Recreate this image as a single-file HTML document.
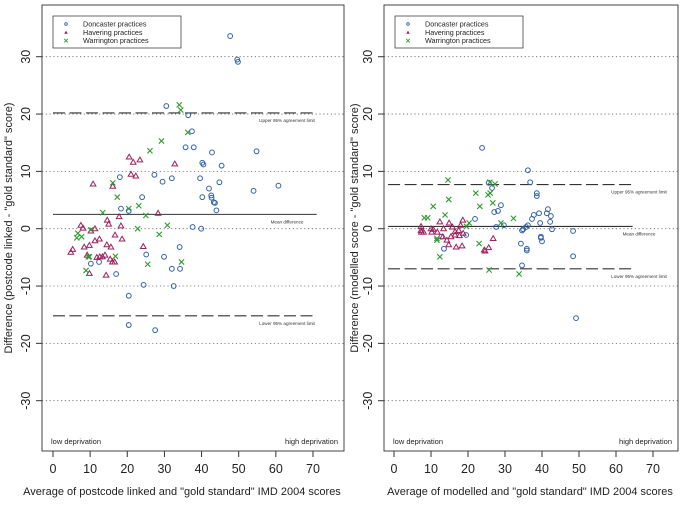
<!DOCTYPE html>
<html><head><meta charset="utf-8"><style>
html,body{margin:0;padding:0;background:#fff;width:685px;height:507px;overflow:hidden}
svg{display:block;font-family:"Liberation Sans",sans-serif}
</style></head><body>
<svg id="c" width="685" height="507" xmlns="http://www.w3.org/2000/svg"></svg>
<script>
const xTicks=[0,10,20,30,40,50,60,70];
const yTicks=[-30,-20,-10,0,10,20,30];
const legendLabels=["Doncaster practices","Havering practices","Warrington practices"];
// Left panel data [x,y]
const leftDon=[[47.7,33.6],[49.6,29.5],[49.8,29.1],[30.5,21.4],[36.4,19.8],[37.4,17],[35.7,14.2],[37.9,14.2],[42.8,13.3],[54.8,13.5],[40.2,11.5],[40.5,11.2],[45.4,11],[27.3,9.4],[18,9],[32,8.8],[29.5,8.2],[39.6,8.8],[44.8,8.1],[42,7],[54,6.6],[60.7,7.5],[42.6,5.8],[42.7,5.4],[40.2,5.5],[24,5.5],[43.3,4.6],[43.6,4.5],[44,3.2],[18.3,3.5],[20.4,3.1],[37.6,0.3],[39.9,0],[34.1,-3.2],[25.1,-4.5],[29.9,-4.9],[10.2,-6.1],[12.4,-5.8],[17,-7.9],[32,-7],[34.2,-7],[24.4,-9.8],[32.5,-10],[20.4,-11.7],[20.4,-16.8],[27.5,-17.7]];
const leftHav=[[10.8,7.8],[16.1,7.4],[20.5,12.5],[21.6,11.6],[23.4,12],[32.8,11.3],[21,9.5],[22.3,9.2],[28.3,2.7],[17.8,2.1],[14.6,1.5],[15,0.8],[18.3,0.5],[7.5,0.6],[8.1,0.1],[11.3,0],[10.2,-0.4],[16.7,-1.1],[18.6,-1.8],[12.5,-1.8],[11.3,-2.1],[14.5,-2.8],[15.6,-3.2],[8.4,-3.2],[9.8,-2.9],[24.3,-3.1],[5.3,-3.6],[4.8,-4.1],[9.2,-4.6],[12.6,-4.9],[14,-4.6],[9.8,-7.8],[14.3,-8.1],[16,-5.8],[16.6,-5.8],[15.4,-5.3],[13.3,-4.9],[11.8,-5]];
const leftWar=[[34,21.6],[34.4,20.7],[36.3,16.8],[29.2,15.3],[26.1,13.6],[16.1,8],[17.3,5.5],[23.1,4],[20.4,3.5],[13.4,2.8],[25,2.3],[30.8,0.6],[22.8,0],[28.6,-1],[10.2,-0.2],[6.7,-0.8],[6.4,-1.6],[7.7,-1.4],[9.8,-4.9],[16.8,-4.8],[8.9,-7.3],[25.5,-6.2],[34.6,-5.8],[9.5,-4.9]];
const leftLines=[20.2,2.5,-15.2];
// Right panel data
const rightDon=[[23.8,14.1],[36.2,10.2],[36.8,8.1],[38.6,6.2],[38.6,5.7],[26.5,7.1],[25.6,8],[28.9,4.1],[27.1,2.9],[28.1,3.1],[21.9,1.7],[41.6,3.4],[41.3,2.7],[42.4,2.2],[39.2,2.7],[37.8,2.4],[37.3,1.7],[36.2,0.6],[35.7,0.3],[39.5,1],[42.2,1.2],[42.7,-0.1],[34.9,-0.1],[34.6,-0.3],[48.4,-0.4],[39.7,-1.4],[39.7,-1.6],[40,-2.2],[34.3,-2.6],[35.9,-3.5],[35.9,-3.8],[48.4,-4.8],[34.6,-6.4],[19.5,-1.1],[13.5,-3.5],[12.8,-1.4],[27.6,0.3],[29.7,0.6],[49.2,-15.6]];
const rightHav=[[7.3,-0.3],[7.3,0.4],[7.4,-0.6],[10,0],[10.2,-0.6],[12.4,1.2],[14.9,1],[15.8,0.3],[13.4,0],[16.5,-1.1],[15.4,-1.4],[17.7,-1.2],[18.6,1.5],[18,0.6],[14.8,-2.8],[16.8,-3.2],[18.4,-3],[24.4,-3.7],[24.6,-3.9],[25.6,-3.3],[26.8,-1.7],[13.2,-1.4],[14.3,-2],[10.6,-0.1],[8,-0.6],[11.7,-0.6],[16.5,-0.5],[17.5,-0.3],[18.7,-0.8]];
const rightWar=[[14.6,8.5],[25.9,8.1],[27.3,7.8],[25.4,5.9],[26,6.2],[22.1,6.2],[14.8,5.1],[10.6,3.9],[23.2,3.9],[26.7,4.5],[13.8,2.4],[8.2,1.9],[9.1,1.9],[32.3,1.8],[28.9,1],[20.3,1],[19.6,0.4],[23,-2.6],[11.6,-2],[12.4,-4.9],[25.7,-7.2],[33.8,-7.9],[11.6,-1.7]];
const rightLines=[7.7,0.4,-7.0];

const svg=document.getElementById('c');
const NS='http://www.w3.org/2000/svg';
const COL=['#2f62a6','#9e1f5e','#2f9a2f'];
function mk(t,a,p){const e=document.createElementNS(NS,t);for(const k in a)e.setAttribute(k,a[k]);(p||svg).appendChild(e);return e;}

function panel(cfg){
  const g=mk('g',{});
  
  
  const sx=v=>cfg.x0+v*cfg.kx, sy=v=>228.7-v*5.733;
  yTicks.forEach(t=>{
    const l=mk('line',{x1:cfg.bl,x2:cfg.br,y1:sy(t),y2:sy(t),stroke:'#666','stroke-width':0.8,'stroke-dasharray':'1.2,2.6'},g);
    
    
    const tk=mk('line',{x1:cfg.bl-6,x2:cfg.bl,y1:sy(t),y2:sy(t),stroke:'#333','stroke-width':1},g);
    
    
    const tx=mk('text',{x:cfg.bl-12,y:sy(t),'font-size':12.5,'text-anchor':'middle',fill:'#222',transform:`rotate(-90 ${cfg.bl-12} ${sy(t)})`},g);
    tx.textContent=t;
    
    
  });
  xTicks.forEach(t=>{
    const tk=mk('line',{x1:sx(t),x2:sx(t),y1:451,y2:457,stroke:'#333','stroke-width':1},g);
    
    
    const tx=mk('text',{x:sx(t),y:473,'font-size':12.5,'text-anchor':'middle',fill:'#222'},g);
    tx.textContent=t;
    
    
  });
  const [u,m,lo]=cfg.lines;
  [u,lo].forEach(v=>{
    const l=mk('line',{x1:sx(cfg.lx0),x2:sx(cfg.lx1),y1:sy(v),y2:sy(v),stroke:'#333','stroke-width':1.1,'stroke-dasharray':'12,4.5'},g);
    
    
  });
  const ml=mk('line',{x1:sx(cfg.lx0),x2:sx(cfg.lx1),y1:sy(m),y2:sy(m),stroke:'#333','stroke-width':1.1},g);
  
  
  [['Upper 95% agreement limit',u],['Mean difference',m],['Lower 95% agreement limit',lo]].forEach(([s,v])=>{
    const t=mk('text',{x:cfg.labX,y:sy(v)+9,'font-size':4.6,'text-anchor':'middle',fill:'#333'},g);
    t.textContent=s;
    
    
  });
  cfg.don.forEach(p=>{
    const c=mk('circle',{cx:sx(p[0]),cy:sy(p[1]),r:2.4,fill:'none',stroke:COL[0],'stroke-width':1},g);
    
    
  });
  cfg.hav.forEach(p=>{
    const x=sx(p[0]),y=sy(p[1]);
    const c=mk('polygon',{points:`${x},${y-2.8} ${x-2.8},${y+2} ${x+2.8},${y+2}`,fill:'none',stroke:COL[1],'stroke-width':1},g);
    
    
  });
  cfg.war.forEach(p=>{
    const x=sx(p[0]),y=sy(p[1]);
    const c=mk('path',{d:`M${x-2.6},${y-2.6}L${x+2.6},${y+2.6}M${x-2.6},${y+2.6}L${x+2.6},${y-2.6}`,stroke:COL[2],'stroke-width':1.1},g);
    
    
  });
  const b=mk('rect',{x:cfg.bl,y:5,width:cfg.br-cfg.bl,height:446,fill:'none',stroke:'#444','stroke-width':1},g);
  
  
  const lg=mk('g',{},g);
  
  
  mk('rect',{x:cfg.bl+11,y:16,width:128,height:32,fill:'#fff',stroke:'#444','stroke-width':0.8},lg);
  legendLabels.forEach((s,i)=>{
    const y=24.5+i*8.3, x=cfg.bl+24;
    if(i==0)mk('circle',{cx:x,cy:y-0.5,r:1.3,fill:'none',stroke:COL[0],'stroke-width':0.9},lg);
    if(i==1)mk('polygon',{points:`${x},${y-2} ${x-1.8},${y+1} ${x+1.8},${y+1}`,fill:COL[1]},lg);
    if(i==2)mk('path',{d:`M${x-1.8},${y-2.3}L${x+1.8},${y+1.3}M${x-1.8},${y+1.3}L${x+1.8},${y-2.3}`,stroke:COL[2],'stroke-width':0.9},lg);
    const t=mk('text',{x:cfg.bl+41,y:y+2,'font-size':7.2,fill:'#222'},lg);
    t.textContent=s;
    
    
  });
  const t1=mk('text',{x:cfg.bl+9,y:444,'font-size':7.5,fill:'#222'},g);
  t1.textContent='low deprivation';
  
  
  const t2=mk('text',{x:cfg.br-6,y:444,'font-size':7.5,fill:'#222','text-anchor':'end'},g);
  t2.textContent='high deprivation';
  
  
  const xt=mk('text',{x:cfg.xtX,y:495,'font-size':11,'text-anchor':'middle',fill:'#222'},g);
  xt.textContent=cfg.xtitle;
  
  
  const yt=mk('text',{x:cfg.ytX,y:228,'font-size':11,'text-anchor':'middle',fill:'#222',transform:`rotate(-90 ${cfg.ytX} 228)`},g);
  yt.textContent=cfg.ytitle;
  
  
}
panel({name:'left-panel',x0:53,kx:3.714,bl:42,br:344,lines:leftLines,lx0:0,lx1:71,labX:287,
  don:leftDon,hav:leftHav,war:leftWar,xtitle:'Average of postcode linked and "gold standard" IMD 2004 scores',xtX:182,
  ytX:12,ytitle:'Difference (postcode linked - "gold standard" score)'});
panel({name:'right-panel',x0:394,kx:3.70,bl:384,br:678,lines:rightLines,lx0:-1.6,lx1:64.5,labX:639,
  don:rightDon,hav:rightHav,war:rightWar,xtitle:'Average of modelled and "gold standard" IMD 2004 scores',xtX:530,
  ytX:358,ytitle:'Difference (modelled score - "gold standard" score)'});
</script>
</body></html>
